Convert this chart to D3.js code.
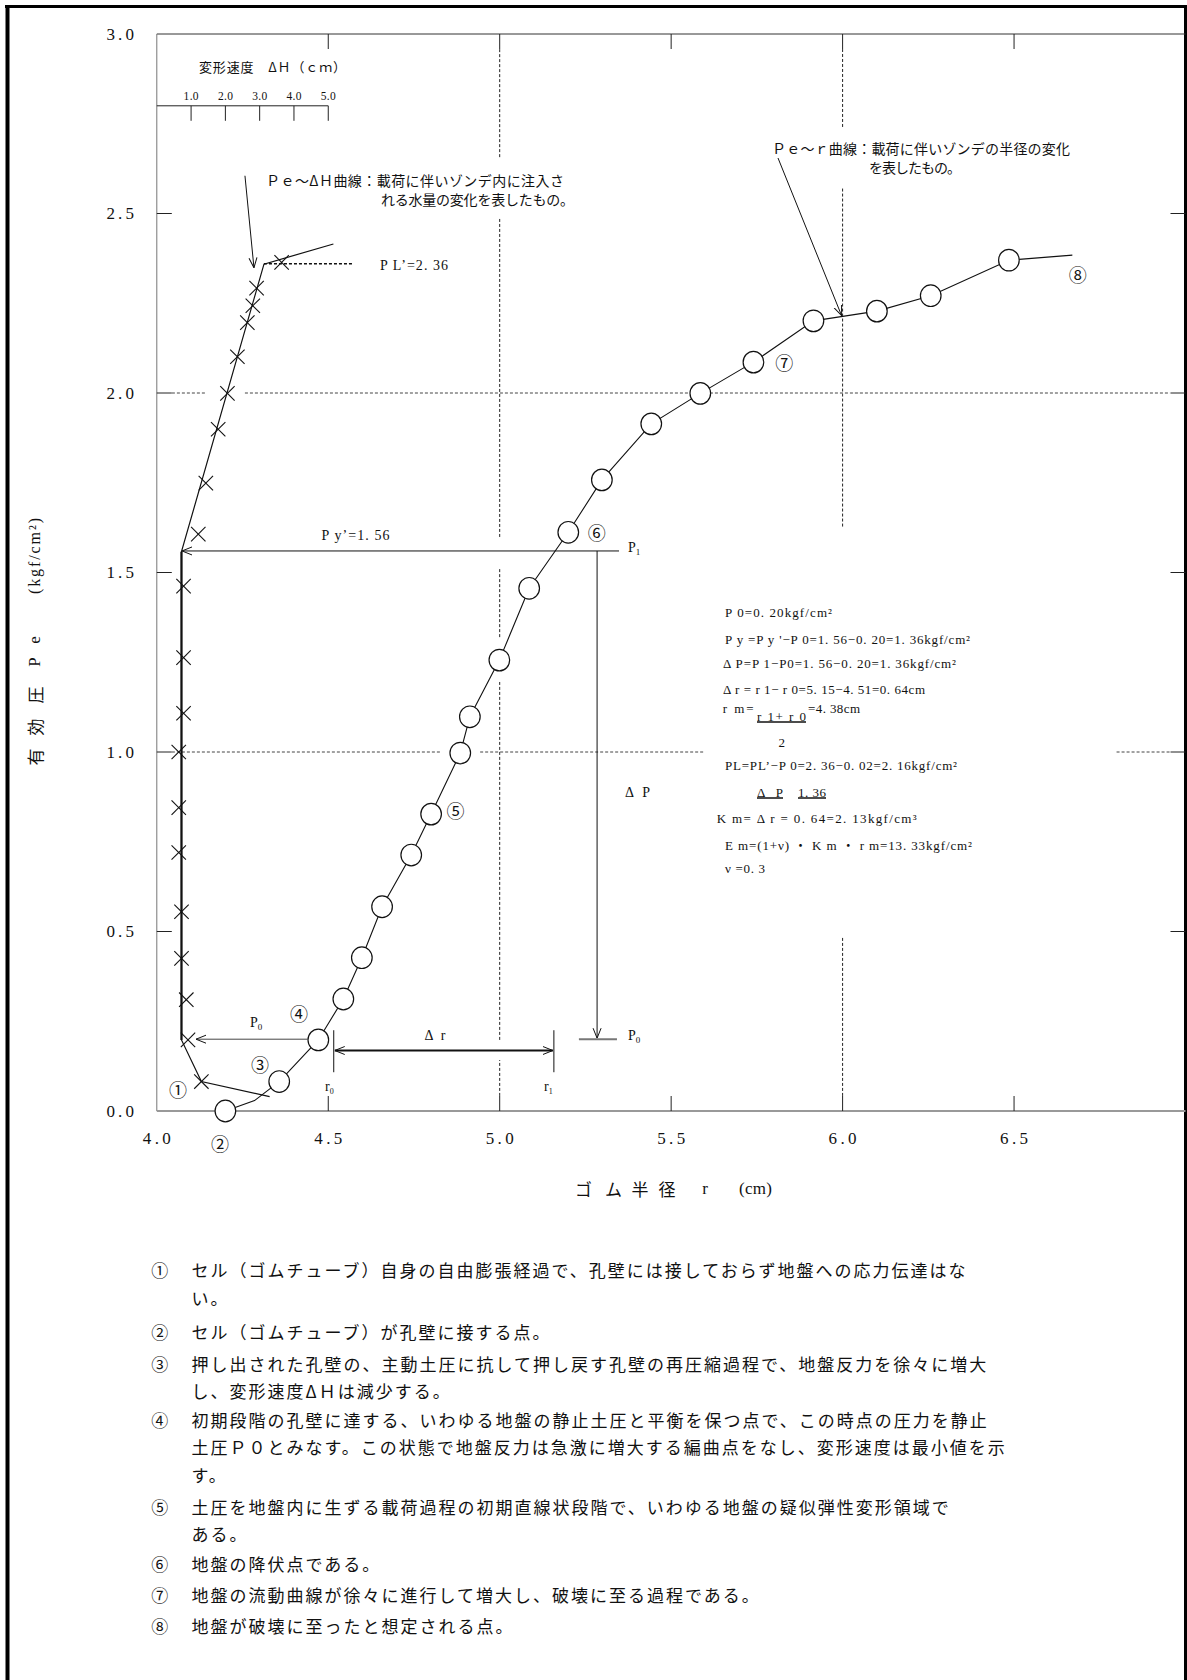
<!DOCTYPE html>
<html><head><meta charset="utf-8">
<script src="https://cdn.jsdelivr.net/npm/d3@7"></script>
<style>body{margin:0;background:#fff}svg{display:block}</style>
</head><body>
<svg id="c" width="1187" height="1680"></svg>
<script>
// ---------------- DATA ----------------
const xTicks = [4.0, 4.5, 5.0, 5.5, 6.0, 6.5];
const yTicks = [0.0, 0.5, 1.0, 1.5, 2.0, 2.5, 3.0];
const dhTicks = [1.0, 2.0, 3.0, 4.0, 5.0];
const xTickLabels = ["4.0", "4.5", "5.0", "5.5", "6.0", "6.5"];
const yTickLabels = ["0.0", "0.5", "1.0", "1.5", "2.0", "2.5", "3.0"];
const dhTickLabels = ["1.0", "2.0", "3.0", "4.0", "5.0"];

// Pe ~ r curve (circles): rubber radius r (cm), effective pressure Pe (kgf/cm2)
const circR = [4.200, 4.357, 4.471, 4.544, 4.598, 4.657, 4.742, 4.800, 4.885, 4.913, 4.999, 5.086, 5.200, 5.298, 5.442, 5.585, 5.740, 5.915, 6.100, 6.257, 6.485];
const circP = [0.000, 0.082, 0.198, 0.312, 0.427, 0.569, 0.713, 0.827, 0.997, 1.098, 1.256, 1.456, 1.612, 1.758, 1.914, 1.999, 2.086, 2.201, 2.228, 2.271, 2.370];
// polyline of the Pe ~ r curve
const rLineR = [4.200, 4.285, 4.357, 4.471, 4.544, 4.598, 4.657, 4.742, 4.800, 4.885, 4.913, 4.999, 5.086, 5.200, 5.298, 5.442, 5.585, 5.740, 5.915, 6.100, 6.257, 6.485, 6.670];
const rLineP = [0.000, 0.029, 0.082, 0.198, 0.312, 0.427, 0.569, 0.713, 0.827, 0.997, 1.098, 1.256, 1.456, 1.612, 1.758, 1.914, 1.999, 2.086, 2.201, 2.228, 2.271, 2.370, 2.384];

// Pe ~ ΔH curve (crosses): deformation speed ΔH (cm)
const crossH = [1.30, 0.91, 0.86, 0.72, 0.72, 0.64, 0.64, 0.64, 0.78, 0.78, 0.78, 1.21, 1.43, 1.79, 2.06, 2.35, 2.64, 2.80, 2.91, 3.64];
const crossP = [0.082, 0.198, 0.310, 0.425, 0.555, 0.720, 0.845, 1.000, 1.108, 1.263, 1.462, 1.607, 1.749, 1.899, 1.999, 2.101, 2.196, 2.243, 2.292, 2.364];
const hLineH = [3.29, 1.30, 0.72, 0.72, 3.125, 5.15];
const hLineP = [0.040, 0.082, 0.198, 1.558, 2.359, 2.415];

// characteristic values
const P0 = 0.20, PyP = 1.56, PLP = 2.36, r0 = 4.516, r1 = 5.158, dhAxisP = 2.80;

// dashed grid segments (data units)
const vGrid = [
  {r: 5.0, segs: [[0.042, 0.142], [0.198, 1.195], [1.320, 1.514], [1.599, 2.485], [2.657, 2.958]]},
  {r: 6.0, segs: [[0.042, 0.485], [1.628, 2.571], [2.741, 2.958]]}
];
const hGrid = [
  {p: 2.0, segs: [[4.044, 4.146], [4.257, 6.955]]},
  {p: 1.0, segs: [[4.044, 4.831], [4.943, 5.598], [6.799, 6.955]]}
];

const circledLabels = ["①", "②", "③", "④", "⑤", "⑥", "⑦", "⑧"];
const circledPos = [[4.062, 0.060], [4.184, -0.088], [4.301, 0.131], [4.415, 0.273], [4.871, 0.839], [5.283, 1.612], [5.830, 2.087], [6.686, 2.331]];

const formulaLines = [
  {t: "P 0=0. 20kgf/cm²", x: 725, y: 612, w: 107},
  {t: "P y =P y '−P 0=1. 56−0. 20=1. 36kgf/cm²", x: 725, y: 639, w: 245},
  {t: "Δ P=P 1−P0=1. 56−0. 20=1. 36kgf/cm²", x: 723, y: 663, w: 233},
  {t: "Δ r = r 1− r 0=5. 15−4. 51=0. 64cm", x: 723, y: 689, w: 202},
  {t: "r m=", x: 722.7, y: 708, w: 31},
  {t: "r 1+ r 0", x: 757, y: 716, w: 49, u: true},
  {t: "=4. 38cm", x: 808, y: 708, w: 52},
  {t: "2", x: 778.5, y: 742, w: 7},
  {t: "PL=PL’−P 0=2. 36−0. 02=2. 16kgf/cm²", x: 725, y: 765, w: 232},
  {t: "Δ P", x: 757, y: 792, w: 26, u: true},
  {t: "1. 36", x: 798, y: 792, w: 28, u: true},
  {t: "K m=  Δ r =  0. 64=2. 13kgf/cm³", x: 716.7, y: 818, w: 200},
  {t: "E m=(1+ν) ・ K m ・ r m=13. 33kgf/cm²", x: 725, y: 845, w: 247},
  {t: "ν =0. 3", x: 725, y: 868, w: 40}
];

const notes = [
  {n: "①", y: 1269, t: "セル（ゴムチューブ）自身の自由膨張経過で、孔壁には接しておらず地盤への応力伝達はな"},
  {n: "",  y: 1297, t: "い。"},
  {n: "②", y: 1331, t: "セル（ゴムチューブ）が孔壁に接する点。"},
  {n: "③", y: 1363, t: "押し出された孔壁の、主動土圧に抗して押し戻す孔壁の再圧縮過程で、地盤反力を徐々に増大"},
  {n: "",  y: 1390, t: "し、変形速度ΔＨは減少する。"},
  {n: "④", y: 1419, t: "初期段階の孔壁に達する、いわゆる地盤の静止土圧と平衡を保つ点で、この時点の圧力を静止"},
  {n: "",  y: 1446, t: "土圧Ｐ０とみなす。この状態で地盤反力は急激に増大する編曲点をなし、変形速度は最小値を示"},
  {n: "",  y: 1474, t: "す。"},
  {n: "⑤", y: 1506, t: "土圧を地盤内に生ずる載荷過程の初期直線状段階で、いわゆる地盤の疑似弾性変形領域で"},
  {n: "",  y: 1533, t: "ある。"},
  {n: "⑥", y: 1563, t: "地盤の降伏点である。"},
  {n: "⑦", y: 1594, t: "地盤の流動曲線が徐々に進行して増大し、破壊に至る過程である。"},
  {n: "⑧", y: 1625, t: "地盤が破壊に至ったと想定される点。"}
];

// ---------------- DRAWING ----------------
const SERIF = "'Liberation Serif','DejaVu Serif','Noto Sans CJK JP',serif";
const JP = "'Noto Sans CJK JP','Noto Sans CJK SC',sans-serif";
const svg = d3.select("#c");
svg.append("rect").attr("width", 1187).attr("height", 1680).attr("fill", "#fff");

const x = d3.scaleLinear().domain([4, 7]).range([156.8, 1185.5]);
const y = d3.scaleLinear().domain([0, 3]).range([1111, 34]);
const dh = d3.scaleLinear().domain([0, 30]).range(x.range());

const defs = svg.append("defs");
defs.append("marker").attr("id", "arr").attr("viewBox", "0 -5 10 10")
  .attr("refX", 10).attr("refY", 0).attr("markerWidth", 10).attr("markerHeight", 10)
  .attr("markerUnits", "userSpaceOnUse").attr("orient", "auto-start-reverse")
  .append("path").attr("d", "M0,-4L10,0L0,4").attr("fill", "none").attr("stroke", "#111").attr("stroke-width", 1);

function line(x1, y1, x2, y2, stroke, w, dash) {
  const l = svg.append("line").attr("x1", x1).attr("y1", y1).attr("x2", x2).attr("y2", y2)
    .attr("stroke", stroke || "#111").attr("stroke-width", w || 1);
  if (dash) l.attr("stroke-dasharray", dash);
  return l;
}
function text(s, xx, yy, o) {
  o = o || {};
  const t = svg.append("text").attr("x", xx).attr("y", yy).text(s)
    .attr("font-family", o.font || SERIF).attr("font-size", o.size || 14)
    .attr("fill", o.fill || "#111").attr("text-anchor", o.anchor || "start")
    .attr("dominant-baseline", "central");
  if (o.w) t.attr("textLength", o.w).attr("lengthAdjust", "spacing");
  if (o.ls) t.attr("letter-spacing", o.ls);
  if (o.rot) t.attr("transform", `rotate(${o.rot},${xx},${yy})`);
  return t;
}

// outer border
line(7.5, 5, 7.5, 1680, "#000", 4);
line(5, 6.5, 1187, 6.5, "#000", 3);
line(1185.5, 5, 1185.5, 1680, "#000", 3);

// dashed grid
vGrid.forEach(g => g.segs.forEach(s => line(x(g.r), y(s[0]), x(g.r), y(s[1]), "#222", 1, "3,2")));
hGrid.forEach(g => g.segs.forEach(s => line(x(s[0]), y(g.p), x(s[1]), y(g.p), "#444", 1, "3,2")));

// frame
line(x(4), y(3), x(7), y(3), "#333", 1);
line(x(4), y(0), x(4), y(3), "#777", 1);
line(x(4), y(0), x(7), y(0), "#999", 2);

// ticks
yTicks.filter(v => v > 0 && v < 3).forEach(v => {
  line(x(4), y(v), x(4) + 15, y(v), "#222", 1);
  line(x(7) - 15, y(v), x(7), y(v), "#222", 1);
});
xTicks.filter(v => v > 4).forEach(v => {
  line(x(v), y(0), x(v), y(0) - 15, "#222", 1);
  line(x(v), y(3), x(v), y(3) + 15, "#222", 1);
});
yTicks.forEach((v, i) => text(yTickLabels[i], 120.2, y(v), {size: 17, anchor: "middle", w: 27.6}));
xTicks.forEach((v, i) => text(xTickLabels[i], x(v), 1138.3, {size: 17, anchor: "middle", w: 28}));

// ΔH sub-axis
line(dh(0), y(dhAxisP), dh(5), y(dhAxisP), "#222", 1);
dhTicks.forEach((v, i) => {
  line(dh(v), y(dhAxisP), dh(v), y(dhAxisP) + 15, "#222", 1);
  text(dhTickLabels[i], dh(v), y(dhAxisP) - 10, {size: 11.5, anchor: "middle", w: 15});
});
text("変形速度　ΔＨ（ｃｍ）", 199, 66, {font: JP, size: 13, w: 147});

// axis titles
[["有", 757], ["効", 727], ["圧", 695]].forEach(d => text(d[0], 34, d[1], {font: JP, size: 17, anchor: "middle", rot: -90}));
[["P", 662], ["e", 640]].forEach(d => text(d[0], 34, d[1], {size: 17, anchor: "middle", rot: -90}));
text("(kgf/cm²)", 34, 556, {size: 16, anchor: "middle", rot: -90, w: 76});

[["ゴ", 583.5], ["ム", 613.5], ["半", 640], ["径", 667]].forEach(d => text(d[0], d[1], 1188, {font: JP, size: 17, anchor: "middle"}));
text("r", 705, 1188, {size: 17, anchor: "middle"});
text("(cm)", 755.5, 1188, {size: 17, anchor: "middle", w: 33});

// Pe ~ ΔH curve
const lnH = d3.line().x(d => dh(d[0])).y(d => y(d[1]));
svg.append("path").attr("d", lnH(hLineH.map((h, i) => [h, hLineP[i]])))
  .attr("fill", "none").attr("stroke", "#111").attr("stroke-width", 1.2);
line(dh(hLineH[2]), y(hLineP[2]), dh(hLineH[3]), y(hLineP[3]), "#111", 2.2);
const cx = svg.append("g").attr("stroke", "#111").attr("stroke-width", 1.1);
crossH.forEach((h, i) => {
  const X = dh(h), Y = y(crossP[i]), s = 7.2;
  cx.append("line").attr("x1", X - s).attr("y1", Y - s).attr("x2", X + s).attr("y2", Y + s);
  cx.append("line").attr("x1", X - s).attr("y1", Y + s).attr("x2", X + s).attr("y2", Y - s);
});

// Pe ~ r curve
const lnR = d3.line().x(d => x(d[0])).y(d => y(d[1]));
svg.append("path").attr("d", lnR(rLineR.map((r, i) => [r, rLineP[i]])))
  .attr("fill", "none").attr("stroke", "#111").attr("stroke-width", 1.1);
svg.append("g").selectAll("ellipse").data(circR).join("ellipse")
  .attr("cx", d => x(d)).attr("cy", (d, i) => y(circP[i])).attr("rx", 10.3).attr("ry", 10.8)
  .attr("fill", "#fff").attr("stroke", "#111").attr("stroke-width", 1.2);

// annotation: Pe ~ ΔH curve
text("Ｐｅ～ΔＨ曲線：載荷に伴いゾンデ内に注入さ", 266, 180, {font: JP, size: 14, w: 298});
text("れる水量の変化を表したもの。", 381, 199, {font: JP, size: 14, w: 193});
line(dh(3.125) - 19, y(PLP) - 88, dh(3.125) - 10, y(PLP) + 4, "#111", 1).attr("marker-end", "url(#arr)");
line(dh(3.125), y(PLP), dh(5.73), y(PLP), "#111", 1.5, "3,2");
text("P L’=2. 36", 380, y(PLP) + 2, {size: 14, w: 68});

// annotation: Pe ~ r curve
text("Ｐｅ～ｒ曲線：載荷に伴いゾンデの半径の変化", 772, 148, {font: JP, size: 14, w: 298});
text("を表したもの。", 869, 167, {font: JP, size: 14, w: 92});
line(778, 158, x(6.0) - 1, y(2.21) - 2, "#111", 1).attr("marker-end", "url(#arr)");

// Py' arrow and P1
line(x(5.348), y(PyP), dh(0.706) + 1, y(PyP), "#111", 1).attr("marker-end", "url(#arr)");
text("P y’=1. 56", 355.5, 535, {size: 14, anchor: "middle", w: 68});
const p1 = text("P", 628, 547, {size: 14});
p1.append("tspan").attr("font-size", 9).attr("dy", 5).text("1");

// ΔP arrow and P0 line
line(x(5.284), y(PyP), x(5.284), y(P0) - 1, "#111", 1).attr("marker-end", "url(#arr)");
line(x(5.231), y(P0), x(5.342), y(P0), "#777", 2);
const p0b = text("P", 628, 1035, {size: 14});
p0b.append("tspan").attr("font-size", 9).attr("dy", 5).text("0");
text("Δ P", 637.5, 792.5, {size: 14, anchor: "middle", w: 25});

// P0 arrow
line(x(4.471) - 10.5, y(P0), dh(0.91) + 8, y(P0), "#444", 1).attr("marker-end", "url(#arr)");
const p0a = text("P", 250, 1022, {size: 14});
p0a.append("tspan").attr("font-size", 9).attr("dy", 5).text("0");

// Δr arrow
line(x(r0), y(0.225), x(r0), y(0.108), "#111", 1);
line(x(r1), y(0.225), x(r1), y(0.108), "#111", 1);
line(x(r0) + 1, y(0.1685), x(r1) - 1, y(0.1685), "#111", 2)
  .attr("marker-end", "url(#arr)").attr("marker-start", "url(#arr)");
text("Δ r", 435, 1035, {size: 14, anchor: "middle", w: 21});
const r0t = text("r", 325, 1086, {size: 14});
r0t.append("tspan").attr("font-size", 8).attr("dy", 5).text("0");
const r1t = text("r", 544, 1086, {size: 14});
r1t.append("tspan").attr("font-size", 8).attr("dy", 5).text("1");

// circled step numbers
circledLabels.forEach((s, i) => text(s, x(circledPos[i][0]), y(circledPos[i][1]), {font: JP, size: 18, anchor: "middle"}));

// formula block
formulaLines.forEach(f => {
  text(f.t, f.x, f.y, {size: 13, w: f.w});
  if (f.u) line(f.x, f.y + 6, f.x + f.w, f.y + 6, "#111", 1.5);
});

// notes
notes.forEach(n => {
  if (n.n) text(n.n, 159.8, n.y, {font: JP, size: 17, anchor: "middle"});
  text(n.t, 191.5, n.y, {font: JP, size: 17, ls: 2});
});
</script>
</body></html>
